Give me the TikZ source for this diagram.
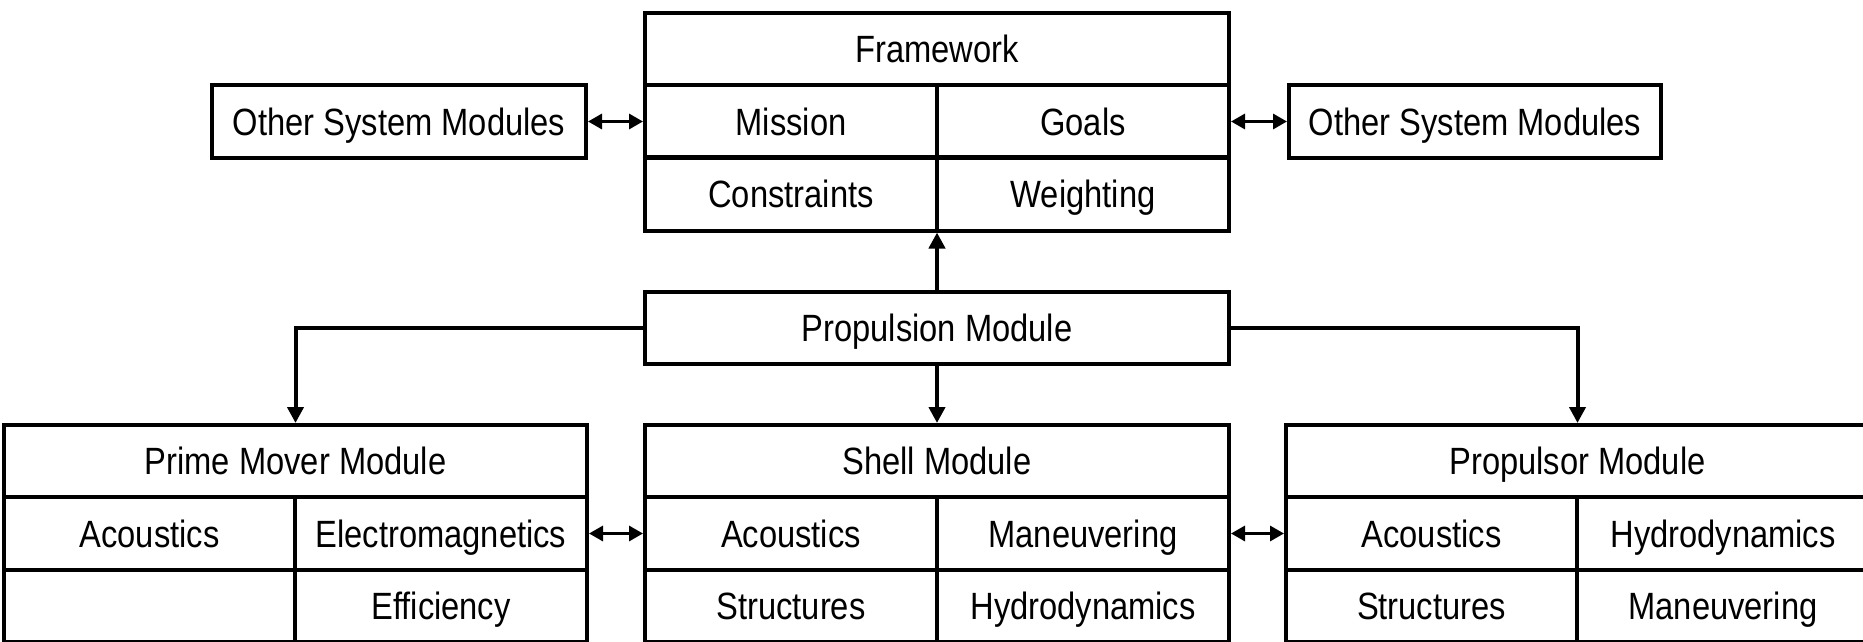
\documentclass[tikz,border=0pt]{standalone}
\usepackage{fontspec}
\setmainfont[FakeStretch=0.86]{Liberation Sans}
\usetikzlibrary{arrows.meta}
\begin{document}
\begin{tikzpicture}[x=0.5pt,y=-0.5pt,
  cell/.style={draw, line width=2pt, inner sep=0pt, text height=13.6pt, text depth=0pt,
    font=\fontsize{19}{22}\selectfont},
  wide/.style={minimum width=292pt, minimum height=36pt},
  half/.style={minimum width=146pt, minimum height=36.5pt},
  conn/.style={line width=2pt, -{Triangle[length=8pt,width=8pt]}},
  biconn/.style={line width=1.6pt, {Triangle[length=7pt,width=7.5pt]}-{Triangle[length=7pt,width=7.5pt]}}]
\useasboundingbox[fill=white] (0,0) rectangle (1863,642);
% Framework
\node[cell, wide] (fw) at (937,49) {Framework};
\node[cell, half] (mission) at (791,121.5) {Mission};
\node[cell, half] (goals) at (1083,121.5) {Goals};
\node[cell, half] (constr) at (791,194) {Constraints};
\node[cell, half] (weight) at (1083,194) {Weighting};
% Other system modules
\node[cell, minimum width=187pt, minimum height=36.5pt] (osml) at (399,121.5) {Other System Modules};
\node[cell, minimum width=186pt, minimum height=36.5pt] (osmr) at (1475,121.5) {Other System Modules};
% Propulsion
\node[cell, wide] (prop) at (937,328) {Propulsion Module};
% Prime mover
\node[cell, minimum width=291.5pt, minimum height=36pt] (pm) at (295.5,461) {Prime Mover Module};
\node[cell, minimum width=145.5pt, minimum height=36.5pt] (pmac) at (149.5,533.5) {Acoustics};
\node[cell, half] (pmem) at (441,533.5) {Electromagnetics};
\node[cell, minimum width=145.5pt, minimum height=36pt] (pmempty) at (149.5,606) {};
\node[cell, minimum width=146pt, minimum height=36pt] (pmeff) at (441,606) {Efficiency};
% Shell
\node[cell, wide] (sh) at (937,461) {Shell Module};
\node[cell, half] (shac) at (791,533.5) {Acoustics};
\node[cell, half] (shman) at (1083,533.5) {Maneuvering};
\node[cell, minimum width=146pt, minimum height=36pt] (shstr) at (791,606) {Structures};
\node[cell, minimum width=146pt, minimum height=36pt] (shhyd) at (1083,606) {Hydrodynamics};
% Propulsor
\node[cell, minimum width=291.5pt, minimum height=36pt] (pr) at (1577.5,461) {Propulsor Module};
\node[cell, minimum width=145.5pt, minimum height=36.5pt] (prac) at (1431.5,533.5) {Acoustics};
\node[cell, half] (prhyd) at (1723,533.5) {Hydrodynamics};
\node[cell, minimum width=145.5pt, minimum height=36pt] (prstr) at (1431.5,606) {Structures};
\node[cell, minimum width=146pt, minimum height=36pt] (prman) at (1723,606) {Maneuvering};
% Connectors
\draw[conn] (prop.north) -- (prop.north |- constr.south);
\draw[conn] (prop.west) -| (pm.north);
\draw[conn] (prop.east) -| (pr.north);
\draw[conn] (prop.south) -- (sh.north);
\draw[biconn] (osml.east) -- (mission.west);
\draw[biconn] (goals.east) -- (osmr.west);
\draw[biconn] (pmem.east) -- (shac.west);
\draw[biconn] (shman.east) -- (prac.west);
\end{tikzpicture}
\end{document}
